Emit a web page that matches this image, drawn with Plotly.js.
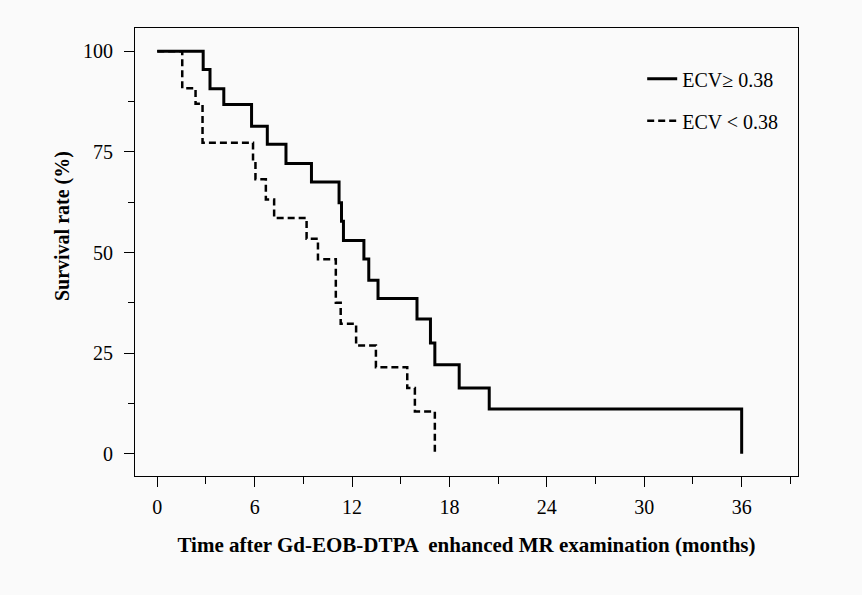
<!DOCTYPE html>
<html>
<head>
<meta charset="utf-8">
<script src="https://cdn.plot.ly/plotly-3.0.1.min.js"></script>
<style>html,body{margin:0;padding:0;background:#fafafa;}#chart{width:862px;height:595px;}</style>
</head>
<body>
<div id="chart"></div>
<script>
// ECV >= 0.38 (solid)
const highTime = [0, 2.83, 3.25, 4.1, 5.81, 6.78, 7.93, 9.5, 11.2, 11.35, 11.47, 12.73, 13.03, 13.6, 16.0, 16.83, 17.1, 18.6, 20.45, 36.0];
const highSurv = [100, 95.5, 90.7, 86.8, 81.4, 76.9, 72.1, 67.5, 62.4, 57.8, 53.0, 48.4, 43.1, 38.6, 33.5, 27.5, 22.1, 16.3, 11.1, 0];
// ECV < 0.38 (dashed)
const lowTime = [0, 1.54, 2.36, 2.79, 5.9, 6.05, 6.69, 7.2, 9.2, 9.9, 11.0, 11.3, 12.25, 13.47, 15.4, 15.87, 17.1];
const lowSurv = [100, 90.8, 87.0, 77.3, 72.7, 68.2, 63.2, 58.6, 53.4, 48.3, 37.5, 32.3, 26.9, 21.5, 16.3, 10.5, 0];

const xTicks = [0, 6, 12, 18, 24, 30, 36];
const yTicks = [0, 25, 50, 75, 100];
const seriesNames = ['ECV\u2265 0.38', 'ECV < 0.38'];
const xTitle = 'Time after Gd-EOB-DTPA  enhanced MR examination (months)';
const yTitle = 'Survival rate (%)';

const serif = 'Liberation Serif, Times New Roman, serif';

const traces = [
  {x: highTime, y: highSurv, name: seriesNames[0], type: 'scatter', mode: 'lines',
   line: {shape: 'hv', color: '#000', width: 3}, legendgroup: 'a'},
  {x: lowTime, y: lowSurv, name: seriesNames[1], type: 'scatter', mode: 'lines',
   line: {shape: 'hv', color: '#000', width: 2.5, dash: '7px,4px'}, legendgroup: 'b'}
];

const layout = {
  width: 862, height: 595,
  margin: {l: 135, r: 64, t: 28, b: 119},
  paper_bgcolor: '#fafafa', plot_bgcolor: '#fafafa',
  font: {family: serif, size: 20, color: '#000'},
  showlegend: true,
  legend: {x: 0.765, y: 0.93, xanchor: 'left', yanchor: 'top', bgcolor: 'rgba(0,0,0,0)',
           font: {family: serif, size: 20}, tracegroupgap: 13, traceorder: 'grouped'},
  xaxis: {
    range: [-1.37, 39.47], tickvals: xTicks, ticktext: xTicks.map(String),
    ticks: 'outside', ticklen: 10, tickwidth: 1, tickcolor: '#000',
    showline: true, linecolor: '#000', linewidth: 1, mirror: true,
    showgrid: false, zeroline: false,
    minor: {dtick: 3, tick0: 0, ticks: 'outside', ticklen: 7, tickcolor: '#000', showgrid: false},
    ticklabelstandoff: 3,
    tickfont: {family: serif, size: 20},
    title: {text: '<b>' + xTitle + '</b>', font: {family: serif, size: 21}, standoff: 20}
  },
  yaxis: {
    range: [-5.54, 105.8], tickvals: yTicks, ticktext: yTicks.map(String),
    ticks: 'outside', ticklen: 10, tickwidth: 1, tickcolor: '#000',
    showline: true, linecolor: '#000', linewidth: 1, mirror: true,
    showgrid: false, zeroline: false,
    minor: {dtick: 12.5, tick0: 0, ticks: 'outside', ticklen: 6, tickcolor: '#000', showgrid: false},
    ticklabelstandoff: 7,
    tickfont: {family: serif, size: 20}
  },
  annotations: [{
    text: '<b>' + yTitle + '</b>', textangle: -90, showarrow: false,
    xref: 'paper', yref: 'paper', x: -0.11, y: 0.558, xanchor: 'center', yanchor: 'middle',
    font: {family: serif, size: 20}
  }]
};

Plotly.newPlot('chart', traces, layout, {displayModeBar: false, staticPlot: true});
</script>
</body>
</html>
